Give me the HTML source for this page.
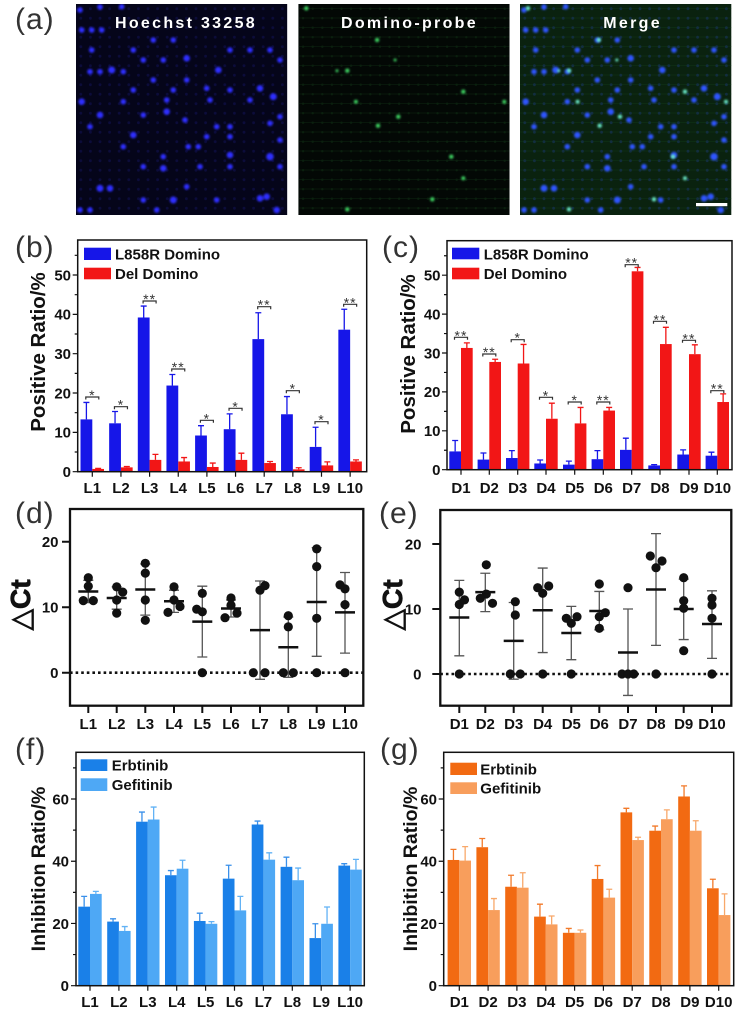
<!DOCTYPE html>
<html><head><meta charset="utf-8">
<style>
html,body{margin:0;padding:0;background:#fff;}
svg{display:block;}
text{font-family:"Liberation Sans",Arial,sans-serif;}
.tk{font-weight:bold;font-size:15px;fill:#111;}
.xl{font-weight:bold;font-size:15px;fill:#111;}
.lg{font-weight:bold;font-size:15px;fill:#111;}
.yt{font-weight:bold;font-size:20.5px;fill:#111;}
.yt2{font-weight:bold;font-size:19.5px;fill:#111;}
.pl{font-size:30px;fill:#333;letter-spacing:1px;}
.st{font-size:14px;fill:#333;letter-spacing:1px;}
.im{font-weight:bold;font-size:16px;fill:#fff;letter-spacing:2.3px;}
.dt{font-weight:bold;font-size:28px;fill:#111;stroke:#111;stroke-width:0.8;}
</style></head>
<body>
<svg width="744" height="1016" viewBox="0 0 744 1016" xmlns="http://www.w3.org/2000/svg">
<defs>
<clipPath id="cp"><rect x="0" y="0" width="211.3" height="211"/></clipPath>
<filter id="bl" x="-10%" y="-10%" width="120%" height="120%"><feGaussianBlur stdDeviation="1.1"/></filter>
<pattern id="dimB" width="9.6" height="9.5" patternUnits="userSpaceOnUse"><circle cx="4.8" cy="4.7" r="1.4" fill="#2a2ad0"/></pattern>
<pattern id="dimG" width="9.6" height="9.5" patternUnits="userSpaceOnUse"><rect x="0" y="4" width="9.6" height="1" fill="#0e2a12"/><circle cx="4.8" cy="4.7" r="1.2" fill="#123d18"/></pattern>
<pattern id="dimM" width="9.6" height="9.5" patternUnits="userSpaceOnUse"><rect x="0" y="4" width="9.6" height="1" fill="#123a18"/><circle cx="4.8" cy="4.7" r="1.4" fill="#1e3f8a"/></pattern>
<g id="nuc">
<circle cx="4" cy="6" r="2.8"/><circle cx="24" cy="3" r="2.8"/><circle cx="45.7" cy="2.7" r="2.8"/><circle cx="5.7" cy="26" r="2.8"/><circle cx="15.7" cy="26" r="2.8"/><circle cx="25.7" cy="26" r="2.8"/><circle cx="77.3" cy="36" r="2.8"/><circle cx="97.3" cy="36" r="2.8"/><circle cx="15.7" cy="46" r="2.8"/><circle cx="57.3" cy="46" r="2.8"/><circle cx="110.7" cy="54.3" r="3.3"/><circle cx="87.3" cy="56" r="2.8"/><circle cx="67.3" cy="56" r="2.8"/><circle cx="35.7" cy="66" r="3.5"/><circle cx="47.3" cy="67.7" r="2.8"/><circle cx="24" cy="67.7" r="2.8"/><circle cx="14" cy="67.7" r="2.8"/><circle cx="77.3" cy="76" r="2.8"/><circle cx="110.7" cy="76" r="2.8"/><circle cx="142.3" cy="66" r="3.3"/><circle cx="174" cy="46" r="2.8"/><circle cx="194" cy="46" r="2.8"/><circle cx="204" cy="56" r="2.8"/><circle cx="154" cy="46" r="2.8"/><circle cx="130.7" cy="84.3" r="2.8"/><circle cx="97.3" cy="86" r="2.8"/><circle cx="57.3" cy="86" r="2.8"/><circle cx="184" cy="84.3" r="3.3"/><circle cx="197.3" cy="92.7" r="3.5"/><circle cx="5.7" cy="97.7" r="3.3"/><circle cx="47.3" cy="97.7" r="2.8"/><circle cx="90.7" cy="96" r="2.8"/><circle cx="134" cy="96" r="2.8"/><circle cx="154" cy="86" r="2.8"/><circle cx="174" cy="96" r="2.8"/><circle cx="24" cy="111" r="3.3"/><circle cx="67.3" cy="111" r="2.8"/><circle cx="90.7" cy="107.7" r="3.3"/><circle cx="109" cy="116" r="2.8"/><circle cx="140.7" cy="122.7" r="2.8"/><circle cx="154" cy="122.7" r="2.8"/><circle cx="194" cy="119.3" r="2.8"/><circle cx="204" cy="112.7" r="2.8"/><circle cx="14" cy="122.7" r="2.8"/><circle cx="57.3" cy="131" r="3.3"/><circle cx="47.3" cy="142.7" r="2.8"/><circle cx="112.3" cy="142.7" r="2.8"/><circle cx="122.3" cy="142.7" r="2.8"/><circle cx="154" cy="151" r="3.3"/><circle cx="194" cy="152.7" r="3.8"/><circle cx="87.3" cy="152.7" r="2.8"/><circle cx="87.3" cy="164.3" r="3.3"/><circle cx="124" cy="162.7" r="2.8"/><circle cx="154" cy="162.7" r="2.8"/><circle cx="67.3" cy="162.7" r="2.8"/><circle cx="24" cy="184.3" r="3.5"/><circle cx="34" cy="184.3" r="3.3"/><circle cx="97.3" cy="196" r="3.5"/><circle cx="67.3" cy="196" r="2.8"/><circle cx="184" cy="194.3" r="3.3"/><circle cx="190.7" cy="192.7" r="3.3"/><circle cx="14" cy="206" r="2.8"/><circle cx="4" cy="206" r="2.8"/><circle cx="80.7" cy="206" r="2.8"/><circle cx="200.7" cy="206" r="3.3"/><circle cx="140.7" cy="196" r="2.8"/><circle cx="110.7" cy="182.7" r="2.8"/><circle cx="204" cy="162.7" r="2.8"/><circle cx="204" cy="136" r="2.8"/><circle cx="130.7" cy="132.7" r="2.8"/><circle cx="154" cy="132.7" r="2.8"/>
</g>
<g id="grn">
<circle cx="8" cy="4.3" r="2.2"/><circle cx="78.8" cy="36" r="2.2"/><circle cx="49" cy="66.7" r="2.2"/><circle cx="165" cy="87.7" r="2.2"/><circle cx="57.6" cy="97.7" r="2"/><circle cx="100" cy="112.7" r="2.2"/><circle cx="79.7" cy="121.7" r="2.2"/><circle cx="153" cy="152.7" r="2.2"/><circle cx="165" cy="174.3" r="2"/><circle cx="134" cy="195.3" r="2.2"/><circle cx="49" cy="205.3" r="2.2"/><circle cx="206" cy="97.7" r="2"/><circle cx="96.8" cy="56" r="1.5"/><circle cx="38.7" cy="66.7" r="1.5"/>
</g>
</defs>

<!-- ===== Panel (a) ===== -->
<text class="pl" x="15" y="29">(a)</text>
<g transform="translate(76,4)" clip-path="url(#cp)">
<rect width="211.3" height="211" fill="#05051a"/>
<rect width="211.3" height="211" fill="url(#dimB)" opacity="0.18"/>
<use href="#nuc" fill="#2d2dff" filter="url(#bl)"/>
</g>
<g transform="translate(298.3,4)" clip-path="url(#cp)">
<rect width="211.3" height="211" fill="#030805"/>
<rect width="211.3" height="211" fill="url(#dimG)" opacity="0.45"/>
<use href="#grn" fill="#3cd060" filter="url(#bl)"/>
</g>
<g transform="translate(520,4)" clip-path="url(#cp)">
<rect width="211.7" height="211" fill="#0a220f"/>
<rect width="211.7" height="211" fill="url(#dimM)" opacity="0.4"/>
<use href="#nuc" fill="#2d55ff" filter="url(#bl)"/>
<use href="#grn" fill="#6ae8c8" filter="url(#bl)"/>
<rect x="176" y="199" width="31.3" height="3.2" fill="#fff"/>
</g>
<text class="im" x="115" y="28">Hoechst 33258</text>
<text class="im" x="341" y="28">Domino-probe</text>
<text class="im" x="603.3" y="28">Merge</text>

<!-- ===== Panel (b) ===== -->
<text class="pl" x="15" y="257">(b)</text>
<g transform="translate(0,471.7) scale(1,-3.934)">
<g fill="#1616e8">
<rect x="80.5" y="0" width="11.8" height="13.3"/><rect x="109.15" y="0" width="11.8" height="12.3"/><rect x="137.8" y="0" width="11.8" height="39.2"/><rect x="166.45" y="0" width="11.8" height="21.9"/><rect x="195.1" y="0" width="11.8" height="9.2"/><rect x="223.75" y="0" width="11.8" height="10.8"/><rect x="252.4" y="0" width="11.8" height="33.7"/><rect x="281.05" y="0" width="11.8" height="14.6"/><rect x="309.7" y="0" width="11.8" height="6.3"/><rect x="338.35" y="0" width="11.8" height="36.1"/>
</g>
<g fill="#f21616">
<rect x="92.3" y="0" width="11.7" height="0.7"/><rect x="120.95" y="0" width="11.7" height="1.1"/><rect x="149.6" y="0" width="11.7" height="3.0"/><rect x="178.25" y="0" width="11.7" height="2.6"/><rect x="206.9" y="0" width="11.7" height="1.2"/><rect x="235.55" y="0" width="11.7" height="3.0"/><rect x="264.2" y="0" width="11.7" height="2.2"/><rect x="292.85" y="0" width="11.7" height="0.6"/><rect x="321.5" y="0" width="11.7" height="1.6"/><rect x="350.15" y="0" width="11.7" height="2.6"/>
</g>
<path fill="none" stroke="#1616e8" stroke-width="1.3" vector-effect="non-scaling-stroke" d="M86.4 13.3V17.6M83.4 17.6H89.4M115.05 12.3V15.3M112.05 15.3H118.05M143.7 39.2V42.1M140.7 42.1H146.7M172.35 21.9V24.7M169.35 24.7H175.35M201 9.2V11.7M198 11.7H204M229.65 10.8V14.7M226.65 14.7H232.65M258.3 33.7V40.4M255.3 40.4H261.3M286.95 14.6V19.1M283.95 19.1H289.95M315.6 6.3V11.3M312.6 11.3H318.6M344.25 36.1V41.3M341.25 41.3H347.25"/>
<path fill="none" stroke="#f21616" stroke-width="1.3" vector-effect="non-scaling-stroke" d="M95.15 0.85H101.15M126.8 1.1V1.3M123.8 1.3H129.8M155.45 3V4.4M152.45 4.4H158.45M184.1 2.6V3.6M181.1 3.6H187.1M212.75 1.2V2.2M209.75 2.2H215.75M241.4 3V4.7M238.4 4.7H244.4M270.05 2.2V2.6M267.05 2.6H273.05M298.7 0.6V1M295.7 1H301.7M327.35 1.6V2.5M324.35 2.5H330.35M356 2.6V3M353 3H359"/>
</g>
<path fill="none" stroke="#333" stroke-width="1.2" d="M85.8 399.5V397H98.8V399.5M114.45 409.2V406.7H127.45V409.2M143.1 303.5V301H156.1V303.5M171.75 371.5V369H184.75V371.5M200.4 422.8V420.3H213.4V422.8M229.05 410.8V408.3H242.05V410.8M257.7 309.2V306.7H270.7V309.2M286.35 393.2V390.7H299.35V393.2M315 424.2V421.7H328V424.2M343.65 306.8V304.3H356.65V306.8"/>
<g class="st" text-anchor="middle">
<text x="92.3" y="400">*</text><text x="120.95" y="409.7">*</text><text x="149.6" y="304">**</text><text x="178.25" y="372">**</text><text x="206.9" y="423.3">*</text><text x="235.55" y="411.3">*</text><text x="264.2" y="309.7">**</text><text x="292.85" y="393.7">*</text><text x="321.5" y="424.7">*</text><text x="350.15" y="307.3">**</text>
</g>
<rect x="77.7" y="240" width="289" height="231.7" fill="none" stroke="#111" stroke-width="1.5"/>
<path fill="none" stroke="#111" stroke-width="1.2" d="M77.7 471.7H72.7M77.7 432.36H72.7M77.7 393.02H72.7M77.7 353.68H72.7M77.7 314.34H72.7M77.7 275H72.7M77.7 452.03H74.7M77.7 412.69H74.7M77.7 373.35H74.7M77.7 334.01H74.7M77.7 294.67H74.7M77.7 255.33H74.7M92.3 471.7V476.7M120.95 471.7V476.7M149.6 471.7V476.7M178.25 471.7V476.7M206.9 471.7V476.7M235.55 471.7V476.7M264.2 471.7V476.7M292.85 471.7V476.7M321.5 471.7V476.7M350.15 471.7V476.7"/>
<g class="tk" text-anchor="end">
<text x="71" y="477">0</text><text x="71" y="437.7">10</text><text x="71" y="398.3">20</text><text x="71" y="359">30</text><text x="71" y="319.6">40</text><text x="71" y="280.3">50</text>
</g>
<g class="xl" text-anchor="middle">
<text x="92.3" y="493">L1</text><text x="120.95" y="493">L2</text><text x="149.6" y="493">L3</text><text x="178.25" y="493">L4</text><text x="206.9" y="493">L5</text><text x="235.55" y="493">L6</text><text x="264.2" y="493">L7</text><text x="292.85" y="493">L8</text><text x="321.5" y="493">L9</text><text x="350.15" y="493">L10</text>
</g>
<rect x="84" y="247.7" width="27" height="12.3" fill="#1616e8"/>
<rect x="84" y="267.7" width="27" height="11.6" fill="#f21616"/>
<text class="lg" x="115" y="259.5">L858R Domino</text>
<text class="lg" x="115" y="279">Del Domino</text>
<text class="yt" transform="translate(45,352) rotate(-90)" text-anchor="middle">Positive Ratio/%</text>

<!-- ===== Panel (c) ===== -->
<text class="pl" x="382" y="257">(c)</text>
<g transform="translate(0,469.7) scale(1,-3.89)">
<g fill="#1616e8">
<rect x="449.3" y="0" width="11.7" height="4.7"/><rect x="477.6" y="0" width="11.7" height="2.6"/><rect x="506" y="0" width="11.7" height="3.0"/><rect x="534.3" y="0" width="11.7" height="1.6"/><rect x="563" y="0" width="11.7" height="1.3"/><rect x="591.6" y="0" width="11.7" height="2.7"/><rect x="620" y="0" width="11.7" height="5.1"/><rect x="648.3" y="0" width="11.7" height="1.1"/><rect x="677.3" y="0" width="11.7" height="3.9"/><rect x="705.6" y="0" width="11.7" height="3.6"/>
</g>
<g fill="#f21616">
<rect x="461" y="0" width="11.7" height="31.3"/><rect x="489.3" y="0" width="11.7" height="27.7"/><rect x="517.7" y="0" width="11.7" height="27.3"/><rect x="546" y="0" width="11.7" height="13.1"/><rect x="574.7" y="0" width="11.7" height="11.9"/><rect x="603.3" y="0" width="11.7" height="15.2"/><rect x="631.7" y="0" width="11.7" height="51.0"/><rect x="660" y="0" width="11.7" height="32.3"/><rect x="689" y="0" width="11.7" height="29.7"/><rect x="717.3" y="0" width="11.7" height="17.4"/>
</g>
<path fill="none" stroke="#1616e8" stroke-width="1.3" vector-effect="non-scaling-stroke" d="M455.15 4.7V7.5M452.15 7.5H458.15M483.45 2.6V4.3M480.45 4.3H486.45M511.85 3V4.9M508.85 4.9H514.85M540.15 1.6V2.5M537.15 2.5H543.15M568.85 1.3V2.2M565.85 2.2H571.85M597.45 2.7V4.9M594.45 4.9H600.45M625.85 5.1V8.1M622.85 8.1H628.85M654.15 1.1V1.3M651.15 1.3H657.15M683.15 3.9V5.1M680.15 5.1H686.15M711.45 3.6V4.5M708.45 4.5H714.45"/>
<path fill="none" stroke="#f21616" stroke-width="1.3" vector-effect="non-scaling-stroke" d="M466.85 31.3V32.6M463.85 32.6H469.85M495.15 27.7V28.4M492.15 28.4H498.15M523.55 27.3V32.2M520.55 32.2H526.55M551.85 13.1V17.1M548.85 17.1H554.85M580.55 11.9V16M577.55 16H583.55M609.15 15.2V16M606.15 16H612.15M637.55 51V52M634.55 52H640.55M665.85 32.3V36.6M662.85 36.6H668.85M694.85 29.7V32.1M691.85 32.1H697.85M723.15 17.4V19.5M720.15 19.5H726.15"/>
</g>
<path fill="none" stroke="#333" stroke-width="1.2" d="M454.5 339.8V337.3H467.5V339.8M482.8 356.5V354H495.8V356.5M511.2 342.2V339.7H524.2V342.2M539.5 399.8V397.3H552.5V399.8M568.2 404.5V402H581.2V404.5M596.8 404.5V402H609.8V404.5M625.2 267.2V264.7H638.2V267.2M653.5 323.8V321.3H666.5V323.8M682.5 342.8V340.3H695.5V342.8M710.8 393.2V390.7H723.8V393.2"/>
<g class="st" text-anchor="middle">
<text x="461" y="340.3">**</text><text x="489.3" y="357">**</text><text x="517.7" y="342.7">*</text><text x="546" y="400.3">*</text><text x="574.7" y="405">*</text><text x="603.3" y="405">**</text><text x="631.7" y="267.7">**</text><text x="660" y="324.3">**</text><text x="689" y="343.3">**</text><text x="717.3" y="393.7">**</text>
</g>
<rect x="447" y="240.7" width="285" height="229" fill="none" stroke="#111" stroke-width="1.5"/>
<path fill="none" stroke="#111" stroke-width="1.2" d="M447 469.7H442M447 430.8H442M447 391.9H442M447 353H442M447 314.1H442M447 275.2H442M447 450.25H444M447 411.35H444M447 372.45H444M447 333.55H444M447 294.65H444M447 255.75H444M461 469.7V474.7M489.3 469.7V474.7M517.7 469.7V474.7M546 469.7V474.7M574.7 469.7V474.7M603.3 469.7V474.7M631.7 469.7V474.7M660 469.7V474.7M689 469.7V474.7M717.3 469.7V474.7"/>
<g class="tk" text-anchor="end">
<text x="440.5" y="475">0</text><text x="440.5" y="436.1">10</text><text x="440.5" y="397.2">20</text><text x="440.5" y="358.3">30</text><text x="440.5" y="319.4">40</text><text x="440.5" y="280.5">50</text>
</g>
<g class="xl" text-anchor="middle">
<text x="461" y="493">D1</text><text x="489.3" y="493">D2</text><text x="517.7" y="493">D3</text><text x="546" y="493">D4</text><text x="574.7" y="493">D5</text><text x="603.3" y="493">D6</text><text x="631.7" y="493">D7</text><text x="660" y="493">D8</text><text x="689" y="493">D9</text><text x="717.3" y="493">D10</text>
</g>
<rect x="452" y="247.7" width="27.3" height="11.6" fill="#1616e8"/>
<rect x="452" y="267.7" width="27.3" height="11.6" fill="#f21616"/>
<text class="lg" x="483.7" y="259.3">L858R Domino</text>
<text class="lg" x="483.7" y="279">Del Domino</text>
<text class="yt" transform="translate(415,354) rotate(-90)" text-anchor="middle">Positive Ratio/%</text>

<!-- ===== Panel (d) ===== -->
<text class="pl" x="15" y="523">(d)</text>
<path d="M70 672.7H363.3" stroke="#111" stroke-width="2.6" stroke-dasharray="2.6 3" fill="none"/>
<path fill="none" stroke="#555" stroke-width="1.3" d="M88.3 580.3V602.6M83.3 580.3H93.3M83.3 602.6H93.3M116.7 586.9V609.2M111.7 586.9H121.7M111.7 609.2H121.7M145.3 564V615.1M140.3 564H150.3M140.3 615.1H150.3M174 590.2V612.4M169 590.2H179M169 612.4H179M202.3 586.2V657M197.3 586.2H207.3M197.3 657H207.3M231 600V617M226 600H236M226 617H236M260 581V679.3M255 581H265M255 679.3H265M288.3 617V677.3M283.3 617H293.3M283.3 677.3H293.3M316.7 547.6V656.3M311.7 547.6H321.7M311.7 656.3H321.7M345 572.5V653.1M340 572.5H350M340 653.1H350"/>
<g fill="#111">
<circle cx="88.3" cy="577.7" r="4.6"/><circle cx="88.3" cy="586.2" r="4.6"/><circle cx="83.3" cy="600.65" r="4.6"/><circle cx="93.3" cy="600.65" r="4.6"/>
<circle cx="116.7" cy="586.9" r="4.6"/><circle cx="122.7" cy="592.1" r="4.6"/><circle cx="116.7" cy="600" r="4.6"/><circle cx="116.7" cy="613.1" r="4.6"/>
<circle cx="145.3" cy="563.3" r="4.6"/><circle cx="145.3" cy="573.1" r="4.6"/><circle cx="145.3" cy="600" r="4.6"/><circle cx="145.3" cy="620.3" r="4.6"/>
<circle cx="174" cy="586.9" r="4.6"/><circle cx="174" cy="600" r="4.6"/><circle cx="168" cy="612.4" r="4.6"/><circle cx="180" cy="606.5" r="4.6"/>
<circle cx="202.3" cy="593.4" r="4.6"/><circle cx="196.7" cy="609.2" r="4.6"/><circle cx="202.3" cy="611.8" r="4.6"/><circle cx="202.3" cy="672.7" r="4.6"/>
<circle cx="231" cy="598" r="4.6"/><circle cx="231" cy="605.2" r="4.6"/><circle cx="225" cy="617.7" r="4.6"/><circle cx="237" cy="613.1" r="4.6"/>
<circle cx="260" cy="590.2" r="4.6"/><circle cx="265" cy="585.6" r="4.6"/><circle cx="253.3" cy="672.7" r="4.6"/><circle cx="265" cy="672.7" r="4.6"/>
<circle cx="288.3" cy="615.7" r="4.6"/><circle cx="288.3" cy="626.9" r="4.6"/><circle cx="283.3" cy="672.7" r="4.6"/><circle cx="293.3" cy="672.7" r="4.6"/>
<circle cx="316.7" cy="548.9" r="4.6"/><circle cx="316.7" cy="566.6" r="4.6"/><circle cx="316.7" cy="618.3" r="4.6"/><circle cx="316.7" cy="672.7" r="4.6"/>
<circle cx="340" cy="584.9" r="4.6"/><circle cx="345" cy="588.9" r="4.6"/><circle cx="345" cy="604.6" r="4.6"/><circle cx="345" cy="672.7" r="4.6"/>
</g>
<path fill="none" stroke="#111" stroke-width="2.5" d="M78.3 591.5H98.3M106.7 598H126.7M135.3 589.5H155.3M164 601.3H184M192.3 621.6H212.3M221 608.5H241M250 630.1H270M278.3 647.2H298.3M306.7 602H326.7M335 612.4H355"/>
<rect x="70" y="509" width="293.3" height="196.7" fill="none" stroke="#111" stroke-width="2.3"/>
<path fill="none" stroke="#111" stroke-width="2" d="M70 541.7H62M70 607.2H62M70 672.7H62M88.3 705.7V713M116.7 705.7V713M145.3 705.7V713M174 705.7V713M202.3 705.7V713M231 705.7V713M260 705.7V713M288.3 705.7V713M316.7 705.7V713M345 705.7V713"/>
<g class="xl" text-anchor="end">
<text x="58.5" y="547">20</text><text x="58.5" y="612.5">10</text><text x="58.5" y="678">0</text>
</g>
<g class="xl" text-anchor="middle">
<text x="88.3" y="729">L1</text><text x="116.7" y="729">L2</text><text x="145.3" y="729">L3</text><text x="174" y="729">L4</text><text x="202.3" y="729">L5</text><text x="231" y="729">L6</text><text x="260" y="729">L7</text><text x="288.3" y="729">L8</text><text x="316.7" y="729">L9</text><text x="345" y="729">L10</text>
</g>
<text class="dt" transform="translate(30,605) rotate(-90)" text-anchor="middle"><tspan font-family="DejaVu Sans" font-weight="bold">△</tspan>Ct</text>

<!-- ===== Panel (e) ===== -->
<text class="pl" x="379" y="523">(e)</text>
<path d="M440.3 674H731.3" stroke="#111" stroke-width="2.6" stroke-dasharray="2.6 3" fill="none"/>
<path fill="none" stroke="#555" stroke-width="1.3" d="M459.3 580.4V655.8M454.3 580.4H464.3M454.3 655.8H464.3M485.3 573.25V611.6M480.3 573.25H490.3M480.3 611.6H490.3M513.7 602.5V679.2M508.7 602.5H518.7M508.7 679.2H518.7M542.7 568.05V652.55M537.7 568.05H547.7M537.7 652.55H547.7M571.3 606.4V659.7M566.3 606.4H576.3M566.3 659.7H576.3M599.3 591.45V629.8M594.3 591.45H604.3M594.3 629.8H604.3M628 609V695.45M623 609H633M623 695.45H633M656 533.6V645.4M651 533.6H661M651 645.4H661M683.7 579.1V639.55M678.7 579.1H688.7M678.7 639.55H688.7M712 590.8V658.4M707 590.8H717M707 658.4H717"/>
<g fill="#111">
<circle cx="459.3" cy="592.1" r="4.6"/><circle cx="459.3" cy="604.45" r="4.6"/><circle cx="464.5" cy="599.9" r="4.6"/><circle cx="459.3" cy="674" r="4.6"/>
<circle cx="486.3" cy="564.8" r="4.6"/><circle cx="486.3" cy="594.05" r="4.6"/><circle cx="480.3" cy="598.3" r="4.6"/><circle cx="492.5" cy="603.3" r="4.6"/>
<circle cx="515.3" cy="601.7" r="4.6"/><circle cx="515.3" cy="615" r="4.6"/><circle cx="510.3" cy="674" r="4.6"/><circle cx="520.3" cy="674" r="4.6"/>
<circle cx="537.7" cy="587.7" r="4.6"/><circle cx="542.7" cy="593.3" r="4.6"/><circle cx="548.7" cy="586" r="4.6"/><circle cx="542.7" cy="674" r="4.6"/>
<circle cx="566.3" cy="618.3" r="4.6"/><circle cx="571.3" cy="623.3" r="4.6"/><circle cx="577" cy="616.7" r="4.6"/><circle cx="571.3" cy="674" r="4.6"/>
<circle cx="599.3" cy="584" r="4.6"/><circle cx="599.3" cy="616.7" r="4.6"/><circle cx="605.3" cy="612.7" r="4.6"/><circle cx="599.3" cy="628.3" r="4.6"/>
<circle cx="628" cy="587.7" r="4.6"/><circle cx="622" cy="674" r="4.6"/><circle cx="628" cy="674" r="4.6"/><circle cx="633.7" cy="674" r="4.6"/>
<circle cx="650.3" cy="556" r="4.6"/><circle cx="656" cy="567.7" r="4.6"/><circle cx="662" cy="561" r="4.6"/><circle cx="656" cy="674" r="4.6"/>
<circle cx="683.7" cy="577.7" r="4.6"/><circle cx="683.7" cy="600.7" r="4.6"/><circle cx="683.7" cy="608.3" r="4.6"/><circle cx="683.7" cy="650.7" r="4.6"/>
<circle cx="712" cy="598.3" r="4.6"/><circle cx="712" cy="605" r="4.6"/><circle cx="712" cy="618.3" r="4.6"/><circle cx="712" cy="674" r="4.6"/>
</g>
<path fill="none" stroke="#111" stroke-width="2.5" d="M449.3 617.45H469.3M475.3 592.1H495.3M503.7 640.85H523.7M532.7 610.3H552.7M561.3 633.05H581.3M589.3 610.95H609.3M618 652.55H638M646 589.5H666M673.7 609H693.7M702 623.95H722"/>
<rect x="440.3" y="510" width="291" height="195.7" fill="none" stroke="#111" stroke-width="2.3"/>
<path fill="none" stroke="#111" stroke-width="2" d="M440.3 544H432.3M440.3 609H432.3M440.3 674H432.3M459.3 705.7V713M485.3 705.7V713M513.7 705.7V713M542.7 705.7V713M571.3 705.7V713M599.3 705.7V713M628 705.7V713M656 705.7V713M683.7 705.7V713M712 705.7V713"/>
<g class="xl" text-anchor="end">
<text x="421.5" y="549.3">20</text><text x="421.5" y="614.3">10</text><text x="421.5" y="679.3">0</text>
</g>
<g class="xl" text-anchor="middle">
<text x="459.3" y="729">D1</text><text x="485.3" y="729">D2</text><text x="513.7" y="729">D3</text><text x="542.7" y="729">D4</text><text x="571.3" y="729">D5</text><text x="599.3" y="729">D6</text><text x="628" y="729">D7</text><text x="656" y="729">D8</text><text x="683.7" y="729">D9</text><text x="712" y="729">D10</text>
</g>
<text class="dt" transform="translate(402,605) rotate(-90)" text-anchor="middle"><tspan font-family="DejaVu Sans" font-weight="bold">△</tspan>Ct</text>

<!-- ===== Panel (f) ===== -->
<text class="pl" x="15" y="759">(f)</text>
<g transform="translate(0,985.7) scale(1,-3.112)">
<g fill="#1a80e8">
<rect x="78.3" y="0" width="11.7" height="25.4"/><rect x="107.2" y="0" width="11.7" height="20.6"/><rect x="136.1" y="0" width="11.7" height="52.7"/><rect x="165" y="0" width="11.7" height="35.5"/><rect x="193.9" y="0" width="11.7" height="20.8"/><rect x="222.8" y="0" width="11.7" height="34.4"/><rect x="251.7" y="0" width="11.7" height="51.8"/><rect x="280.6" y="0" width="11.7" height="38.2"/><rect x="309.5" y="0" width="11.7" height="15.3"/><rect x="338.4" y="0" width="11.7" height="38.6"/>
</g>
<g fill="#4ea8f5">
<rect x="90" y="0" width="11.7" height="29.5"/><rect x="118.9" y="0" width="11.7" height="17.6"/><rect x="147.8" y="0" width="11.7" height="53.4"/><rect x="176.7" y="0" width="11.7" height="37.6"/><rect x="205.6" y="0" width="11.7" height="19.9"/><rect x="234.5" y="0" width="11.7" height="24.2"/><rect x="263.4" y="0" width="11.7" height="40.5"/><rect x="292.3" y="0" width="11.7" height="33.9"/><rect x="321.2" y="0" width="11.7" height="19.9"/><rect x="350.1" y="0" width="11.7" height="37.3"/>
</g>
<path fill="none" stroke="#3a90ea" stroke-width="1.3" vector-effect="non-scaling-stroke" d="M84.15 25.4V28.7M81.15 28.7H87.15M113.05 20.6V21.5M110.05 21.5H116.05M141.95 52.7V55.8M138.95 55.8H144.95M170.85 35.5V37M167.85 37H173.85M199.75 20.8V23.3M196.75 23.3H202.75M228.65 34.4V38.7M225.65 38.7H231.65M257.55 51.8V52.9M254.55 52.9H260.55M286.45 38.2V41.3M283.45 41.3H289.45M315.35 15.3V19.9M312.35 19.9H318.35M344.25 38.6V39.2M341.25 39.2H347.25"/>
<path fill="none" stroke="#62b2f5" stroke-width="1.3" vector-effect="non-scaling-stroke" d="M95.85 29.5V30.3M92.85 30.3H98.85M124.75 17.6V19M121.75 19H127.75M153.65 53.4V57.4M150.65 57.4H156.65M182.55 37.6V40.3M179.55 40.3H185.55M211.45 19.9V20.6M208.45 20.6H214.45M240.35 24.2V28.7M237.35 28.7H243.35M269.25 40.5V42.7M266.25 42.7H272.25M298.15 33.9V37.8M295.15 37.8H301.15M327.05 19.9V25.3M324.05 25.3H330.05M355.95 37.3V40.6M352.95 40.6H358.95"/>
</g>
<rect x="76" y="752.3" width="288.3" height="233.4" fill="none" stroke="#111" stroke-width="1.5"/>
<path fill="none" stroke="#111" stroke-width="1.2" d="M76 985.7H71M76 923.46H71M76 861.22H71M76 798.98H71M76 954.58H73M76 892.34H73M76 830.1H73M76 767.86H73M90 985.7V990.7M118.9 985.7V990.7M147.8 985.7V990.7M176.7 985.7V990.7M205.6 985.7V990.7M234.5 985.7V990.7M263.4 985.7V990.7M292.3 985.7V990.7M321.2 985.7V990.7M350.1 985.7V990.7"/>
<g class="tk" text-anchor="end">
<text x="69" y="991">0</text><text x="69" y="928.8">20</text><text x="69" y="866.5">40</text><text x="69" y="804.3">60</text>
</g>
<g class="xl" text-anchor="middle">
<text x="90" y="1007">L1</text><text x="118.9" y="1007">L2</text><text x="147.8" y="1007">L3</text><text x="176.7" y="1007">L4</text><text x="205.6" y="1007">L5</text><text x="234.5" y="1007">L6</text><text x="263.4" y="1007">L7</text><text x="292.3" y="1007">L8</text><text x="321.2" y="1007">L9</text><text x="350.1" y="1007">L10</text>
</g>
<rect x="80.7" y="759.3" width="26.6" height="11.7" fill="#1a80e8"/>
<rect x="80.7" y="778.3" width="26.6" height="12.7" fill="#4ea8f5"/>
<text class="lg" x="111.7" y="770.5">Erbtinib</text>
<text class="lg" x="111.7" y="790">Gefitinib</text>
<text class="yt2" transform="translate(45,869) rotate(-90)" text-anchor="middle">Inhibition Ratio/%</text>

<!-- ===== Panel (g) ===== -->
<text class="pl" x="380" y="759">(g)</text>
<g transform="translate(0,985.7) scale(1,-3.112)">
<g fill="#f26a12">
<rect x="447.6" y="0" width="11.7" height="40.4"/><rect x="476.4" y="0" width="11.7" height="44.5"/><rect x="505.2" y="0" width="11.7" height="31.8"/><rect x="534.1" y="0" width="11.7" height="22.2"/><rect x="562.9" y="0" width="11.7" height="17.0"/><rect x="591.7" y="0" width="11.7" height="34.3"/><rect x="620.5" y="0" width="11.7" height="55.7"/><rect x="649.3" y="0" width="11.7" height="49.8"/><rect x="678.2" y="0" width="11.7" height="60.8"/><rect x="707" y="0" width="11.7" height="31.3"/>
</g>
<g fill="#f89e5c">
<rect x="459.3" y="0" width="11.7" height="40.2"/><rect x="488.1" y="0" width="11.7" height="24.3"/><rect x="516.9" y="0" width="11.7" height="31.5"/><rect x="545.8" y="0" width="11.7" height="19.7"/><rect x="574.6" y="0" width="11.7" height="17.0"/><rect x="603.4" y="0" width="11.7" height="28.3"/><rect x="632.2" y="0" width="11.7" height="46.8"/><rect x="661" y="0" width="11.7" height="53.5"/><rect x="689.9" y="0" width="11.7" height="49.8"/><rect x="718.7" y="0" width="11.7" height="22.7"/>
</g>
<path fill="none" stroke="#f27a2a" stroke-width="1.3" vector-effect="non-scaling-stroke" d="M453.45 40.4V43.8M450.45 43.8H456.45M482.25 44.5V47.3M479.25 47.3H485.25M511.05 31.8V35.5M508.05 35.5H514.05M539.95 22.2V26.2M536.95 26.2H542.95M568.75 17V18.4M565.75 18.4H571.75M597.55 34.3V38.6M594.55 38.6H600.55M626.35 55.7V57M623.35 57H629.35M655.15 49.8V51.3M652.15 51.3H658.15M684.05 60.8V64.2M681.05 64.2H687.05M712.85 31.3V34.2M709.85 34.2H715.85"/>
<path fill="none" stroke="#f8a86a" stroke-width="1.3" vector-effect="non-scaling-stroke" d="M465.15 40.2V44.7M462.15 44.7H468.15M493.95 24.3V28M490.95 28H496.95M522.75 31.5V36.3M519.75 36.3H525.75M551.65 19.7V22.4M548.65 22.4H554.65M580.45 17V17.9M577.45 17.9H583.45M609.25 28.3V31M606.25 31H612.25M638.05 46.8V47.7M635.05 47.7H641.05M666.85 53.5V56.5M663.85 56.5H669.85M695.75 49.8V53M692.75 53H698.75M724.55 22.7V29.5M721.55 29.5H727.55"/>
</g>
<rect x="443.7" y="752.3" width="290" height="233.4" fill="none" stroke="#111" stroke-width="1.5"/>
<path fill="none" stroke="#111" stroke-width="1.2" d="M443.7 985.7H438.7M443.7 923.46H438.7M443.7 861.22H438.7M443.7 798.98H438.7M443.7 954.58H440.7M443.7 892.34H440.7M443.7 830.1H440.7M443.7 767.86H440.7M459.3 985.7V990.7M488.1 985.7V990.7M516.9 985.7V990.7M545.8 985.7V990.7M574.6 985.7V990.7M603.4 985.7V990.7M632.2 985.7V990.7M661 985.7V990.7M689.9 985.7V990.7M718.7 985.7V990.7"/>
<g class="tk" text-anchor="end">
<text x="437" y="991">0</text><text x="437" y="928.8">20</text><text x="437" y="866.5">40</text><text x="437" y="804.3">60</text>
</g>
<g class="xl" text-anchor="middle">
<text x="459.3" y="1007">D1</text><text x="488.1" y="1007">D2</text><text x="516.9" y="1007">D3</text><text x="545.8" y="1007">D4</text><text x="574.6" y="1007">D5</text><text x="603.4" y="1007">D6</text><text x="632.2" y="1007">D7</text><text x="661" y="1007">D8</text><text x="689.9" y="1007">D9</text><text x="718.7" y="1007">D10</text>
</g>
<rect x="450.3" y="762.7" width="26.7" height="12.3" fill="#f26a12"/>
<rect x="450.3" y="782.3" width="26.7" height="11.7" fill="#f89e5c"/>
<text class="lg" x="480.3" y="774.5">Erbtinib</text>
<text class="lg" x="480.3" y="793.5">Gefitinib</text>
<text class="yt2" transform="translate(417,869) rotate(-90)" text-anchor="middle">Inhibition Ratio/%</text>
</svg>
</body></html>
